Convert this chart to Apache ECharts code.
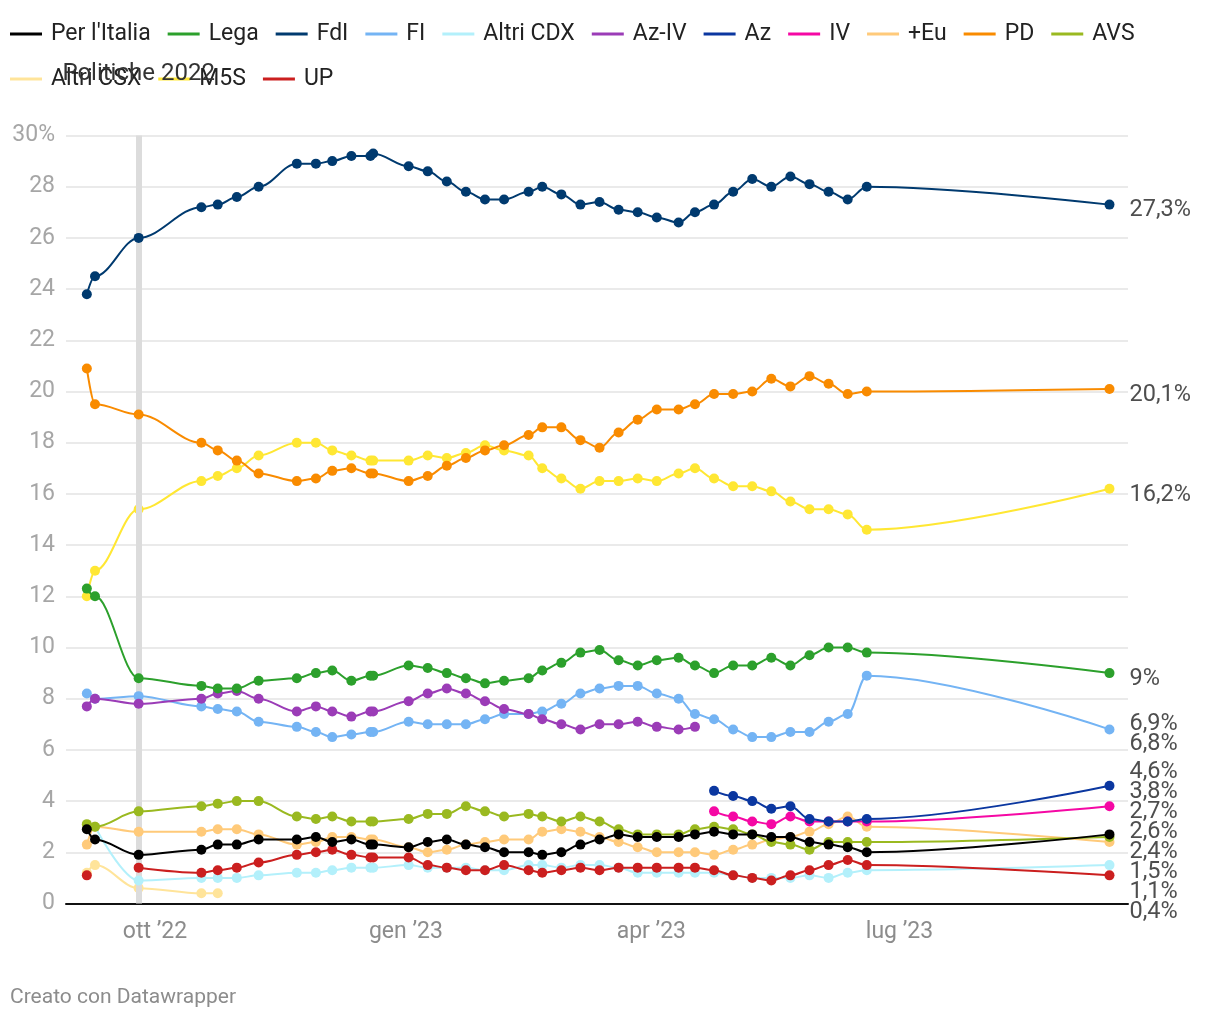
<!DOCTYPE html>
<html>
<head>
<meta charset="utf-8">
<script src="https://cdn.jsdelivr.net/npm/echarts@6/dist/echarts.min.js"></script>
<style>
html,body{margin:0;padding:0;background:#fff;}
#c{width:1220px;height:1020px;}
</style>
</head>
<body>
<div id="c"></div>
<script>
const N = null;

// ---------- DATA ----------
const dates = ['2022-09-06','2022-09-09','2022-09-25','2022-10-18','2022-10-24','2022-10-31','2022-11-08',
  '2022-11-22','2022-11-29','2022-12-05','2022-12-12','2022-12-19','2022-12-20','2023-01-02','2023-01-09',
  '2023-01-16','2023-01-23','2023-01-30','2023-02-06','2023-02-15','2023-02-20','2023-02-27','2023-03-06',
  '2023-03-13','2023-03-20','2023-03-27','2023-04-03','2023-04-11','2023-04-17','2023-04-24','2023-05-01',
  '2023-05-08','2023-05-15','2023-05-22','2023-05-29','2023-06-05','2023-06-12','2023-06-19','2023-09-16'];

const parties = ["Per l'Italia","Lega","FdI","FI","Altri CDX","Az-IV","Az","IV","+Eu","PD","AVS","Altri CSX","M5S","UP"];

const perItalia = [2.9,2.5,1.9,2.1,2.3,2.3,2.5,2.5,2.6,2.4,2.5,2.3,2.3,2.2,2.4,2.5,2.3,2.2,2.0,2.0,1.9,2.0,2.3,2.5,2.7,2.6,2.6,2.6,2.7,2.8,2.7,2.7,2.6,2.6,2.4,2.3,2.2,2.0,2.7];
const lega      = [12.3,12.0,8.8,8.5,8.4,8.4,8.7,8.8,9.0,9.1,8.7,8.9,8.9,9.3,9.2,9.0,8.8,8.6,8.7,8.8,9.1,9.4,9.8,9.9,9.5,9.3,9.5,9.6,9.3,9.0,9.3,9.3,9.6,9.3,9.7,10.0,10.0,9.8,9.0];
const fdi       = [23.8,24.5,26.0,27.2,27.3,27.6,28.0,28.9,28.9,29.0,29.2,29.2,29.3,28.8,28.6,28.2,27.8,27.5,27.5,27.8,28.0,27.7,27.3,27.4,27.1,27.0,26.8,26.6,27.0,27.3,27.8,28.3,28.0,28.4,28.1,27.8,27.5,28.0,27.3];
const fi        = [8.2,8.0,8.1,7.7,7.6,7.5,7.1,6.9,6.7,6.5,6.6,6.7,6.7,7.1,7.0,7.0,7.0,7.2,7.4,7.4,7.5,7.8,8.2,8.4,8.5,8.5,8.2,8.0,7.4,7.2,6.8,6.5,6.5,6.7,6.7,7.1,7.4,8.9,6.8];
const altriCdx  = [N,3.0,0.9,1.0,1.0,1.0,1.1,1.2,1.2,1.3,1.4,1.4,1.4,1.5,1.4,1.4,1.4,1.3,1.3,1.5,1.5,1.4,1.5,1.5,1.4,1.2,1.2,1.2,1.2,1.2,1.1,1.0,1.0,1.0,1.1,1.0,1.2,1.3,1.5];
const azIv      = [7.7,8.0,7.8,8.0,8.2,8.3,8.0,7.5,7.7,7.5,7.3,7.5,7.5,7.9,8.2,8.4,8.2,7.9,7.6,7.4,7.2,7.0,6.8,7.0,7.0,7.1,6.9,6.8,6.9,N,N,N,N,N,N,N,N,N,N];
const az        = [N,N,N,N,N,N,N,N,N,N,N,N,N,N,N,N,N,N,N,N,N,N,N,N,N,N,N,N,N,4.4,4.2,4.0,3.7,3.8,3.3,3.2,3.2,3.3,4.6];
const iv        = [N,N,N,N,N,N,N,N,N,N,N,N,N,N,N,N,N,N,N,N,N,N,N,N,N,N,N,N,N,3.6,3.4,3.2,3.1,3.4,3.2,3.2,3.2,3.2,3.8];
const piuEu     = [2.3,3.0,2.8,2.8,2.9,2.9,2.7,2.3,2.4,2.6,2.6,2.5,2.5,2.2,2.0,2.1,2.3,2.4,2.5,2.5,2.8,2.9,2.8,2.6,2.4,2.2,2.0,2.0,2.0,1.9,2.1,2.3,2.5,2.6,2.8,3.1,3.4,3.0,2.4];
const pd        = [20.9,19.5,19.1,18.0,17.7,17.3,16.8,16.5,16.6,16.9,17.0,16.8,16.8,16.5,16.7,17.1,17.4,17.7,17.9,18.3,18.6,18.6,18.1,17.8,18.4,18.9,19.3,19.3,19.5,19.9,19.9,20.0,20.5,20.2,20.6,20.3,19.9,20.0,20.1];
const avs       = [3.1,3.0,3.6,3.8,3.9,4.0,4.0,3.4,3.3,3.4,3.2,3.2,3.2,3.3,3.5,3.5,3.8,3.6,3.4,3.5,3.4,3.2,3.4,3.2,2.9,2.7,2.7,2.7,2.9,3.0,2.9,2.7,2.4,2.3,2.1,2.4,2.4,2.4,2.6];
const altriCsx  = [1.2,1.5,0.6,0.4,0.4,N,N,N,N,N,N,N,N,N,N,N,N,N,N,N,N,N,N,N,N,N,N,N,N,N,N,N,N,N,N,N,N,N,N];
const m5s       = [12.0,13.0,15.4,16.5,16.7,17.0,17.5,18.0,18.0,17.7,17.5,17.3,17.3,17.3,17.5,17.4,17.6,17.9,17.7,17.5,17.0,16.6,16.2,16.5,16.5,16.6,16.5,16.8,17.0,16.6,16.3,16.3,16.1,15.7,15.4,15.4,15.2,14.6,16.2];
const up        = [1.1,N,1.4,1.2,1.3,1.4,1.6,1.9,2.0,2.1,1.9,1.8,1.8,1.8,1.5,1.4,1.3,1.3,1.5,1.3,1.2,1.3,1.4,1.3,1.4,1.4,1.4,1.4,1.4,1.3,1.1,1.0,0.9,1.1,1.3,1.5,1.7,1.5,1.1];

const xTickDates  = ['2022-10-01','2023-01-01','2023-04-01','2023-07-01'];
const xTickLabels = ['ott \u201922','gen \u201923','apr \u201923','lug \u201923'];
const electionDate = '2022-09-25';
const electionLabel = 'Politiche 2022';
const footerText = 'Creato con Datawrapper';

// ---------- STYLE ----------
const values = [perItalia, lega, fdi, fi, altriCdx, azIv, az, iv, piuEu, pd, avs, altriCsx, m5s, up];
const colors = ['#000000','#2ca02c','#003a6f','#74b4f4','#b3f0fb','#9b3cb7','#0b37a0','#f508a4',
                '#ffca7a','#f98b00','#9ab920','#ffe49a','#ffe733','#cb1f1f'];
const zRank  = [13,11,12,3,2,6,9,8,4,10,5,1,0,7];
const FONT = 'Roboto, "Noto Sans", sans-serif';

function t(s) {
  const parts = s.split(' ');
  const d = parts[0].split('-').map(Number);
  let h = 0, mi = 0;
  if (parts[1]) { const tm = parts[1].split(':').map(Number); h = tm[0]; mi = tm[1]; }
  return Date.UTC(d[0], d[1] - 1, d[2], h, mi);
}
function fmt(v) { return String(Math.round(v * 10) / 10).replace('.', ',') + '%'; }
function lastVal(arr) { for (let i = arr.length - 1; i >= 0; i--) if (arr[i] != null) return arr[i]; return null; }

const tickTimes = xTickDates.map(t);
const endTime = t(dates[dates.length - 1]);

const lineSeries = parties.map((p, i) => ({
  name: p,
  type: 'line',
  data: dates.map((d, k) => [t(d), values[i][k]]),
  smooth: 0.35,
  smoothMonotone: 'x',
  connectNulls: false,
  symbol: 'circle',
  symbolSize: 10,
  showSymbol: true,
  showAllSymbol: true,
  lineStyle: { width: 2, color: colors[i] },
  itemStyle: { color: colors[i] },
  emphasis: { disabled: true },
  z: 3 + zRank[i],
  animation: false
}));

const refSeries = {
  name: '_ref',
  type: 'line',
  data: [[t(electionDate), null]],
  z: 1,
  silent: true,
  symbol: 'none',
  markLine: {
    silent: true,
    animation: false,
    symbol: ['none', 'none'],
    lineStyle: { color: '#dcdcdc', width: 6, type: 'solid', opacity: 1 },
    label: {
      show: true, position: 'end', distance: 50,
      formatter: electionLabel, fontSize: 24, color: '#333', fontFamily: FONT
    },
    emphasis: { disabled: true },
    data: [{ xAxis: t(electionDate) }]
  }
};

const labelSeries = {
  id: 'endLabels',
  name: '_labels',
  type: 'scatter',
  silent: true,
  z: 30,
  symbolSize: 0,
  itemStyle: { color: 'transparent' },
  data: parties.map((p, i) => ({ name: p, value: [endTime, lastVal(values[i])] })),
  label: {
    show: true, position: 'right', distance: 20,
    formatter: (pr) => fmt(pr.value[1]),
    fontSize: 23.5, color: '#222', fontFamily: FONT
  },
  emphasis: { disabled: true },
  animation: false
};

const chart = echarts.init(document.getElementById('c'), null, { renderer: 'canvas' });
chart.setOption({
  animation: false,
  backgroundColor: '#ffffff',
  textStyle: { fontFamily: FONT },
  title: {
    text: footerText, left: 10, top: 987, padding: 0,
    textStyle: { fontSize: 21, fontWeight: 'normal', color: '#8c8c8c', fontFamily: FONT }
  },
  legend: {
    data: parties,
    left: 10, top: 20, width: 1195, padding: 0,
    itemGap: 17, itemWidth: 32, itemHeight: 3,
    icon: 'rect',
    selectedMode: false,
    textStyle: { fontSize: 23, color: '#222', fontFamily: FONT, lineHeight: 28, padding: [0, 0, 0, 4] }
  },
  grid: { left: 66, right: 92, top: 135.5, bottom: 116.5, containLabel: false, outerBoundsMode: 'none' },
  xAxis: {
    type: 'value',
    min: t('2022-08-29 08:40'),
    max: t('2023-09-22 19:00'),
    axisLine: { show: true, onZero: true, lineStyle: { color: '#111', width: 2 } },
    axisTick: { show: false },
    splitLine: { show: false },
    axisLabel: {
      customValues: tickTimes,
      formatter: (v) => { const k = tickTimes.indexOf(v); return k >= 0 ? xTickLabels[k] : ''; },
      color: '#8c8c8c', fontSize: 23, margin: 17, fontFamily: FONT
    }
  },
  yAxis: {
    type: 'value', min: 0, max: 30, interval: 2,
    axisLine: { show: false }, axisTick: { show: false },
    splitLine: { show: true, lineStyle: { color: '#e3e3e3', width: 1.5 } },
    axisLabel: {
      formatter: (v) => (v === 30 ? '30%' : String(v)),
      color: '#a6a6a6', fontSize: 23, margin: 11, fontFamily: FONT
    }
  },
  series: lineSeries.concat([refSeries, labelSeries])
});

// ---- label repel for end labels ----
const LABEL_DY = 6, LABEL_GAP = 20, LABEL_MAX_Y = 912;
function relax(ys, gap, maxY) {
  const idx = ys.map((y, i) => i).sort((a, b) => ys[a] - ys[b]);
  const pos = idx.map(i => ys[i]);
  for (let it = 0; it < 5000; it++) {
    let moved = false;
    if (pos[pos.length - 1] > maxY) { pos[pos.length - 1] = maxY; moved = true; }
    for (let k = pos.length - 2; k >= 0; k--) {
      const d = pos[k + 1] - pos[k];
      if (d < gap - 0.01) {
        const o = (gap - d);
        if (k + 1 === pos.length - 1 && pos[k + 1] >= maxY - 0.01) { pos[k] -= o; }
        else { pos[k] -= o / 2; pos[k + 1] += o / 2; }
        moved = true;
      }
    }
    if (!moved) break;
  }
  const out = [];
  idx.forEach((i, k) => { out[i] = pos[k]; });
  return out;
}
const ideal = labelSeries.data.map(d => chart.convertToPixel({ gridIndex: 0 }, d.value)[1] + LABEL_DY);
const laid = relax(ideal, LABEL_GAP, LABEL_MAX_Y);
chart.setOption({
  series: [{ id: 'endLabels', labelLayout: (p) => ({ y: laid[p.dataIndex], verticalAlign: 'middle' }) }]
});
</script>
</body>
</html>
